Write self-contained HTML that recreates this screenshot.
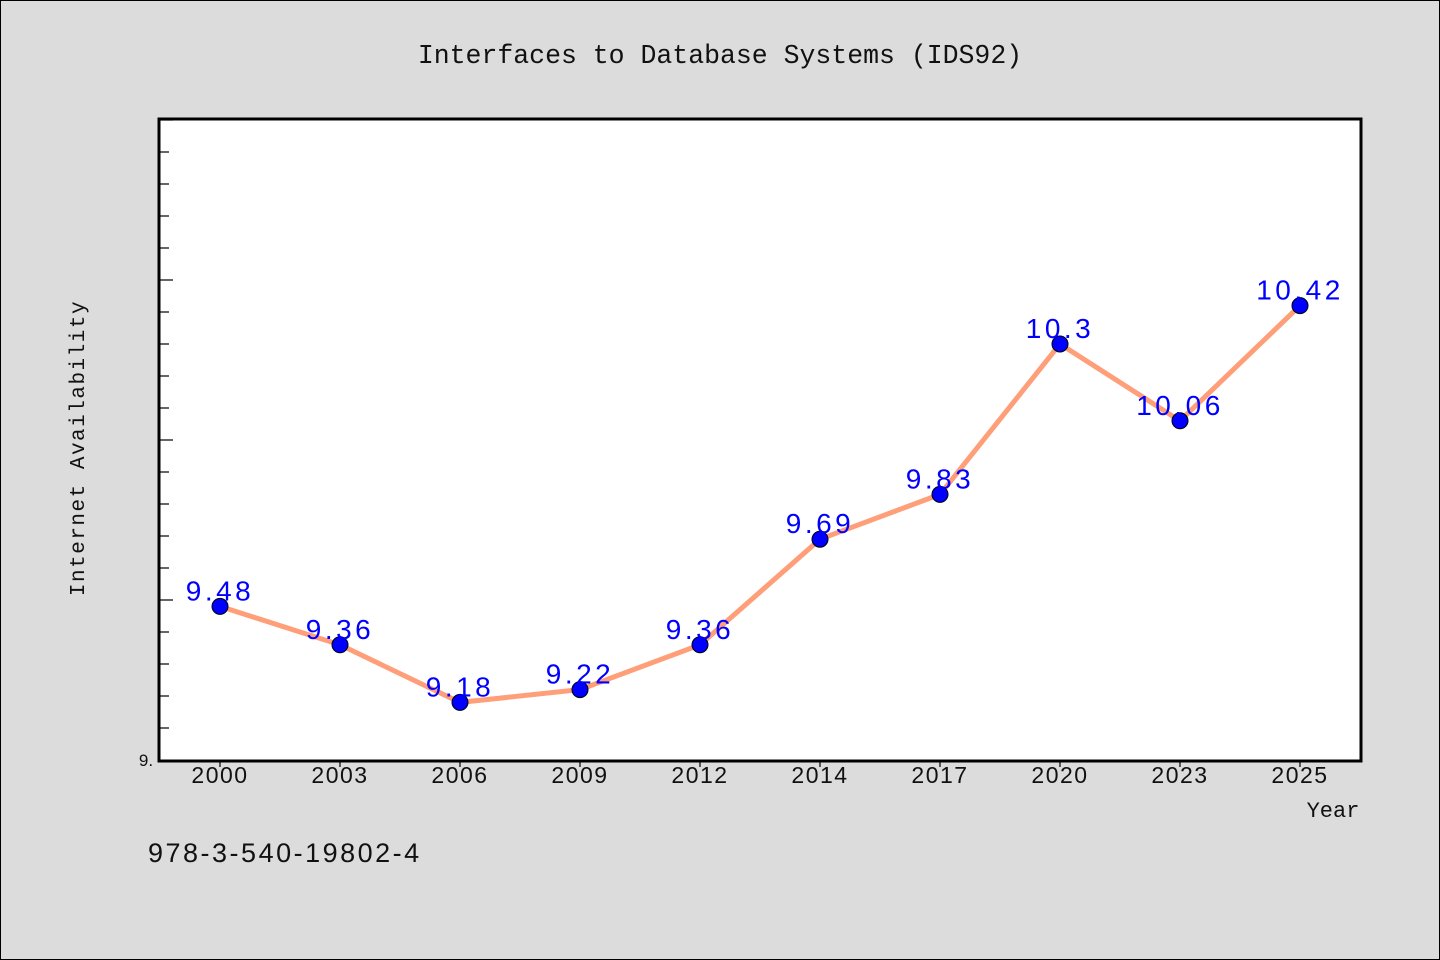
<!DOCTYPE html>
<html><head><meta charset="utf-8"><style>
body{margin:0;background:#dcdcdc;}
svg{display:block;font-family:"Liberation Mono","DejaVu Sans Mono",monospace;}
</style></head><body>
<svg id="c" width="1440" height="960">
<rect x="0.5" y="0.5" width="1439" height="959" fill="#dcdcdc" stroke="#000"/>
<text x="720" y="63" text-anchor="middle" font-size="26.5" fill="#111">Interfaces to Database Systems (IDS92)</text>
<rect x="159" y="119" width="1202" height="642" fill="#fff" stroke="#000" stroke-width="3"/>
<text transform="translate(84,448) rotate(-90)" text-anchor="middle" font-size="21" letter-spacing="1.5" fill="#111">Internet Availability</text>
<text x="1333" y="817" text-anchor="middle" font-size="22" fill="#111">Year</text>
<text x="148" y="862" font-family="Liberation Sans, sans-serif" font-size="27" letter-spacing="2.5" fill="#111">978-3-540-19802-4</text>
<text x="146" y="766" text-anchor="middle" font-family="Liberation Sans, sans-serif" font-size="17" fill="#111">9.</text>
<g id="g"></g>
</svg>
<script>
const categories=["2000","2003","2006","2009","2012","2014","2017","2020","2023","2025"];
const values=[9.48,9.36,9.18,9.22,9.36,9.69,9.83,10.3,10.06,10.42];
const labels=["9.48","9.36","9.18","9.22","9.36","9.69","9.83","10.3","10.06","10.42"];
const yMin=9,yMax=11;
const NS="http://www.w3.org/2000/svg",g=document.getElementById('g');
const x=i=>220+i*120;
const y=v=>760-(v-yMin)/(yMax-yMin)*640;
function mk(t,a){const e=document.createElementNS(NS,t);for(const k in a)e.setAttribute(k,a[k]);g.appendChild(e);return e;}
for(let k=1;k<=20;k++){const v=yMin+k*0.1;const maj=k%5==0;
const t=mk('line',{x1:160,x2:maj?173:169,y1:y(v),y2:y(v),stroke:'#000','stroke-width':1.2});

}
categories.forEach((c,i)=>{
const t=mk('line',{x1:x(i),x2:x(i),y1:761,y2:767,stroke:'#000','stroke-width':1.2});


const l=mk('text',{x:x(i),y:783,'text-anchor':'middle','font-size':23,'letter-spacing':1.5,fill:'#111','font-family':'Liberation Sans, sans-serif'});
l.textContent=c;

});
const p=mk('polyline',{points:values.map((v,i)=>x(i)+','+y(v)).join(' '),fill:'none',stroke:'#ff9f7a','stroke-width':5});


values.forEach((v,i)=>{
const c=mk('circle',{cx:x(i),cy:y(v),r:8,fill:'#0000ff',stroke:'#000','stroke-width':1});


const l=mk('text',{x:x(i),y:y(v)-6,'text-anchor':'middle','font-size':28,'letter-spacing':3.5,fill:'#0000ff','font-family':'Liberation Sans, sans-serif'});
l.textContent=labels[i];

});
</script>
</body></html>
